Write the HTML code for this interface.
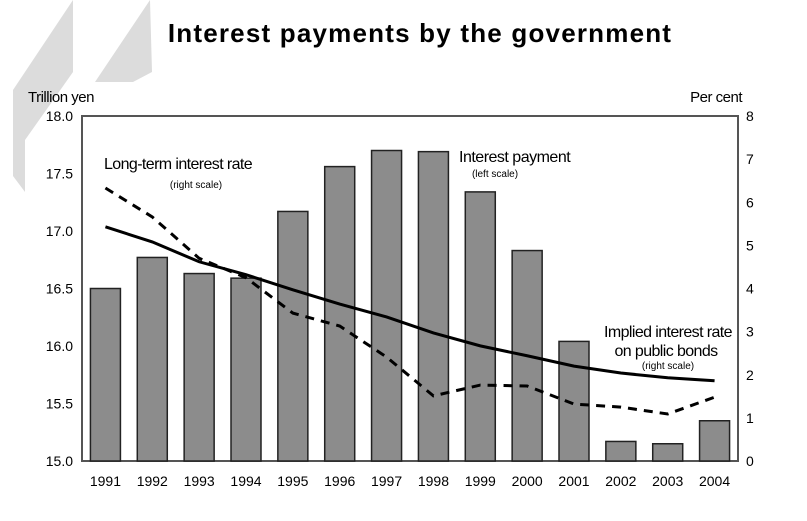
<!DOCTYPE html>
<html><head><meta charset="utf-8"><style>
body{margin:0;background:#fff}
svg{display:block;font-family:"Liberation Sans",sans-serif}
</style></head><body>
<svg width="807" height="521" viewBox="0 0 807 521">
<g fill="#dcdcdc">
<polygon points="13,90 73,0 73,72 25,140 25,192 13,176"/>
<polygon points="95,82 150,0 152,72 133,82"/>
</g>
<text x="420" y="42" text-anchor="middle" font-size="26" font-weight="bold" letter-spacing="1.2">Interest payments by the government</text>
<text x="28" y="102" font-size="15" letter-spacing="-0.5">Trillion yen</text>
<text x="742" y="102" text-anchor="end" font-size="15" letter-spacing="-0.5">Per cent</text>
<rect x="82" y="116" width="656" height="345" fill="none" stroke="#555" stroke-width="2"/>
<g id="bars"></g><g id="lines"></g><g id="axes" font-size="14"></g>
<text x="104" y="169" font-size="16" letter-spacing="-0.6">Long-term interest rate</text>
<text x="196" y="188" text-anchor="middle" font-size="10">(right scale)</text>
<text x="459" y="162" font-size="16" letter-spacing="-0.5">Interest payment</text>
<text x="495" y="177" text-anchor="middle" font-size="10">(left scale)</text>
<text x="668" y="337" text-anchor="middle" font-size="16" letter-spacing="-0.6">Implied interest rate</text>
<text x="666" y="356" text-anchor="middle" font-size="16" letter-spacing="-0.6">on public bonds</text>
<text x="668" y="369" text-anchor="middle" font-size="10">(right scale)</text>
</svg>
<script>
const years=["1991","1992","1993","1994","1995","1996","1997","1998","1999","2000","2001","2002","2003","2004"];
const payment=[16.50,16.77,16.63,16.59,17.17,17.56,17.70,17.69,17.34,16.83,16.04,15.17,15.15,15.35];
const implied=[5.43,5.08,4.62,4.32,3.97,3.64,3.34,2.97,2.67,2.44,2.2,2.04,1.93,1.86];
const longterm=[6.33,5.66,4.7,4.25,3.43,3.13,2.41,1.51,1.76,1.74,1.32,1.25,1.09,1.48];
const leftTicks=["15.0","15.5","16.0","16.5","17.0","17.5","18.0"];
const rightTicks=["0","1","2","3","4","5","6","7","8"];
const NS="http://www.w3.org/2000/svg";
const L=82,R=738,T=116,B=461,slot=(R-L)/years.length;
const x=i=>L+slot*(i+0.5);
const yL=v=>B-(v-15)/3*(B-T);
const yR=v=>B-v/8*(B-T);
function mk(tag,attrs,parent){const e=document.createElementNS(NS,tag);for(const k in attrs)e.setAttribute(k,attrs[k]);parent.appendChild(e);return e;}
const bars=document.getElementById('bars'),lines=document.getElementById('lines'),axes=document.getElementById('axes');
payment.forEach((v,i)=>{
 const r=mk('rect',{x:x(i)-15,y:yL(v),width:30,height:B-yL(v),fill:'#8c8c8c',stroke:'#222','stroke-width':1.5},bars);
 
 
});
const p1=mk('polyline',{points:implied.map((v,i)=>x(i)+','+yR(v)).join(' '),fill:'none',stroke:'#000','stroke-width':3},lines);


const p2=mk('polyline',{points:longterm.map((v,i)=>x(i)+','+yR(v)).join(' '),fill:'none',stroke:'#000','stroke-width':3,'stroke-dasharray':'9,7'},lines);


leftTicks.forEach(t=>{
 const e=mk('text',{x:73,y:yL(+t)+5,'text-anchor':'end'},axes);e.textContent=t;
 
 
});
rightTicks.forEach(t=>{
 const e=mk('text',{x:746,y:yR(+t)+5},axes);e.textContent=t;
 
 
});
years.forEach((t,i)=>{
 const e=mk('text',{x:x(i),y:486,'text-anchor':'middle'},axes);e.textContent=t;
 
 
});
</script>
</body></html>
